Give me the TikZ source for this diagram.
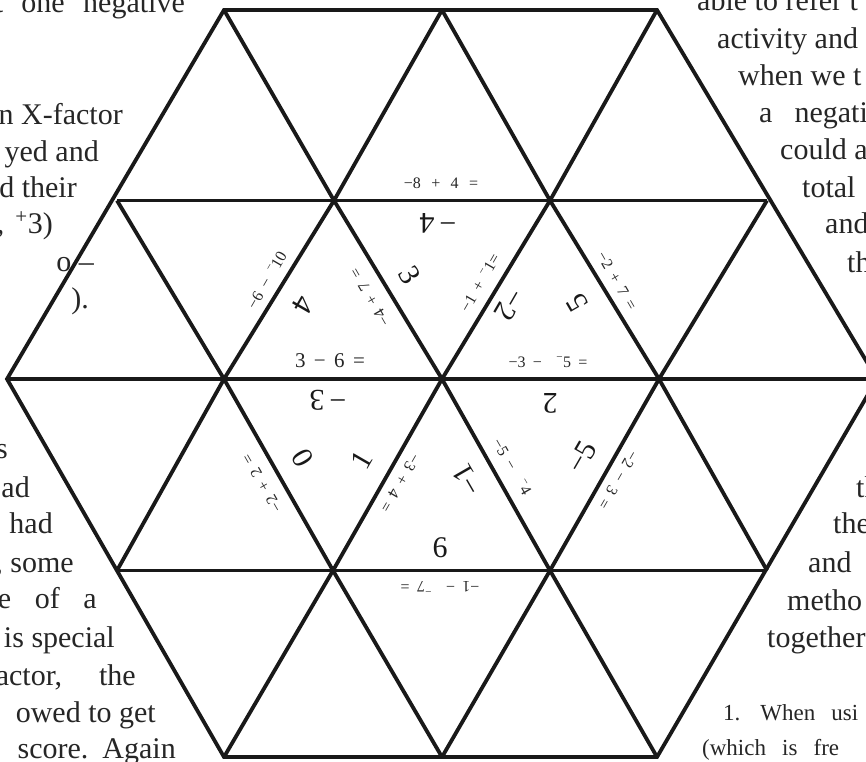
\documentclass[tikz,border=0pt]{standalone}
\usepackage{fontspec}
\setmainfont{Liberation Serif}
\newcommand\upm{\textsuperscript{−}}
\newcommand\upp{\textsuperscript{+}}
\begin{document}
\begin{tikzpicture}[x=1pt,y=-1pt,
  grid/.style={line width=3.8pt,line join=miter,color=black!90},
  eq/.style={font={\fontsize{16}{18}\selectfont\spaceskip=0.45em\relax},inner sep=0pt,text=black!85},
  eqbig/.style={font={\fontsize{21}{24}\selectfont\spaceskip=0.4em\relax},inner sep=0pt,text=black!85},
  ans/.style={font=\fontsize{30}{34}\selectfont,inner sep=0pt,text=black!90},
  body/.style={font=\fontsize{30}{36}\selectfont,inner sep=0pt,text=black!85},
  bodyl/.style={body,anchor=base east},
  bodyr/.style={body,anchor=base west},
  small/.style={font={\fontsize{23}{26}\selectfont\spaceskip=0.7em\relax},inner sep=0pt,text=black!85,anchor=base west}]
\clip (0,0) rectangle (866,761);
\fill[white] (0,0) rectangle (866,761);
% grid vertices
\coordinate (a0) at (224,10);   \coordinate (a1) at (442,10);   \coordinate (a2) at (657,10);
\coordinate (b0) at (117,200.5);\coordinate (b1) at (334,200.5);\coordinate (b2) at (550,200.5);\coordinate (b3) at (767,200.5);
\coordinate (c0) at (7,379);    \coordinate (c1) at (224,379);  \coordinate (c2) at (442,379);  \coordinate (c3) at (659,379);  \coordinate (c4) at (877,379);
\coordinate (d0) at (117,570.5);\coordinate (d1) at (333,570.5);\coordinate (d2) at (550,570.5);\coordinate (d3) at (767,570.5);
\coordinate (e0) at (224,757);  \coordinate (e1) at (442,757);  \coordinate (e2) at (657,757);
% hexagon outline
\draw[grid] (a0)--(a2)--(c4)--(e2)--(e0)--(c0)--cycle;
% horizontals
\draw[grid] (b0)--(b3);
\draw[grid] (c0)--(c4);
\draw[grid] (d0)--(d3);
% rising diagonals
\draw[grid] (d0)--(c1)--(b1)--(a1);
\draw[grid] (e0)--(d1)--(c2)--(b2)--(a2);
\draw[grid] (e1)--(d2)--(c3)--(b3);
% falling diagonals
\draw[grid] (b0)--(c1)--(d1)--(e1);
\draw[grid] (a0)--(b1)--(c2)--(d2)--(e2);
\draw[grid] (a1)--(b2)--(c3)--(d3);
% questions
\node[eq] (q1) at (441,183) {{\spaceskip=0.65em\relax −8 + 4 =}};
\node[eq,rotate=120] (q2) at (370,297) {−4 + 7 =};
\node[eq,rotate=60] (q3) at (267,280) {−6 −\ \upm10};
\node[eqbig] (q4) at (330,361) {3 − 6 =};
\node[eq,rotate=60] (q5) at (480,283) {−1 +\ \upm1=};
\node[eq,rotate=-60] (q6) at (617,281) {−2 + 7 =};
\node[eq] (q7) at (548,362) {−3 −\ \ \upm5 =};
\node[eq,rotate=120] (q8) at (262,483) {−2 + 2 =};
\node[eq,rotate=-120] (q9) at (400,483) {−3 + 4 =};
\node[eq,rotate=-60] (q10) at (512,467) {−5 −\ \ \upm4};
\node[eq,rotate=-120] (q11) at (618,480) {−2 − 3 =};
\node[eq,rotate=180] (q12) at (440,587) {−1 −\ \ \upm7 =};
% answers
\node[ans,rotate=180] (r1) at (438,223) {−\,4};
\node[ans,rotate=-60] (r2) at (410,275) {3};
\node[ans,rotate=-120] (r3) at (303,305) {4};
\node[ans,rotate=180] (r4) at (328,400) {−\,3};
\node[ans,rotate=-120] (r5) at (510,305) {−2};
\node[ans,rotate=120] (r6) at (577,303) {5};
\node[ans,rotate=180] (r7) at (550,403) {2};
\node[ans,rotate=-60] (r8) at (303,458) {0};
\node[ans,rotate=60] (r9) at (362,460) {1};
\node[ans,rotate=120] (r10) at (467,480) {−1};
\node[ans,rotate=60] (r11) at (582,457) {−5};
\node[ans] (r12) at (440,548) {6};
% surrounding page text, left
\node[bodyl] (l1) at (185,12) {\makebox[190pt][s]{t one negative}};
\node[bodyl] (l2) at (123,124) {n X-factor};
\node[bodyl] (l3) at (99,161) {yed and};
\node[bodyl] (l4) at (77,197) {d their};
\node[bodyl] (l5) at (53,233) {\makebox[56pt][s]{, \upp3)}};
\node[bodyl] (l6) at (94,271) {o –};
\node[bodyl] (l7) at (89,308) {).};
\node[bodyl] (l8) at (8,458) {s};
\node[bodyl] (l9) at (30,497) {ad};
\node[bodyl] (l10) at (53,533) {had};
\node[bodyl] (l11) at (74,572) {, some};
\node[bodyl] (l12) at (97,608) {\makebox[99pt][s]{e of a}};
\node[bodyl] (l13) at (115,647) {is special};
\node[bodyl] (l14) at (136,685) {\makebox[140pt][s]{actor, the}};
\node[bodyl] (l15) at (156,722) {owed to get};
\node[bodyl] (l16) at (176,758) {score.\hspace{14pt}Again};
% surrounding page text, right
\node[bodyr] (m1) at (697,10) {able to refer t};
\node[bodyr] (m2) at (717,48) {activity and};
\node[bodyr] (m3) at (738,85) {when we t};
\node[bodyr] (m4) at (759,122) {a\hspace{22pt}negati};
\node[bodyr] (m5) at (780,159) {could a};
\node[bodyr] (m6) at (802,197) {total};
\node[bodyr] (m7) at (825,233) {and};
\node[bodyr] (m8) at (847,272) {th};
\node[bodyr] (m9) at (856,497) {th};
\node[bodyr] (m10) at (833,533) {the};
\node[bodyr] (m11) at (808,572) {and};
\node[bodyr] (m12) at (787,610) {metho};
\node[bodyr] (m13) at (767,647) {together};
\node[small] (m14) at (723,720) {1.\hspace{20pt}When usi};
\node[small] (m15) at (702,755) {(which is fre};
\end{tikzpicture}
\end{document}
